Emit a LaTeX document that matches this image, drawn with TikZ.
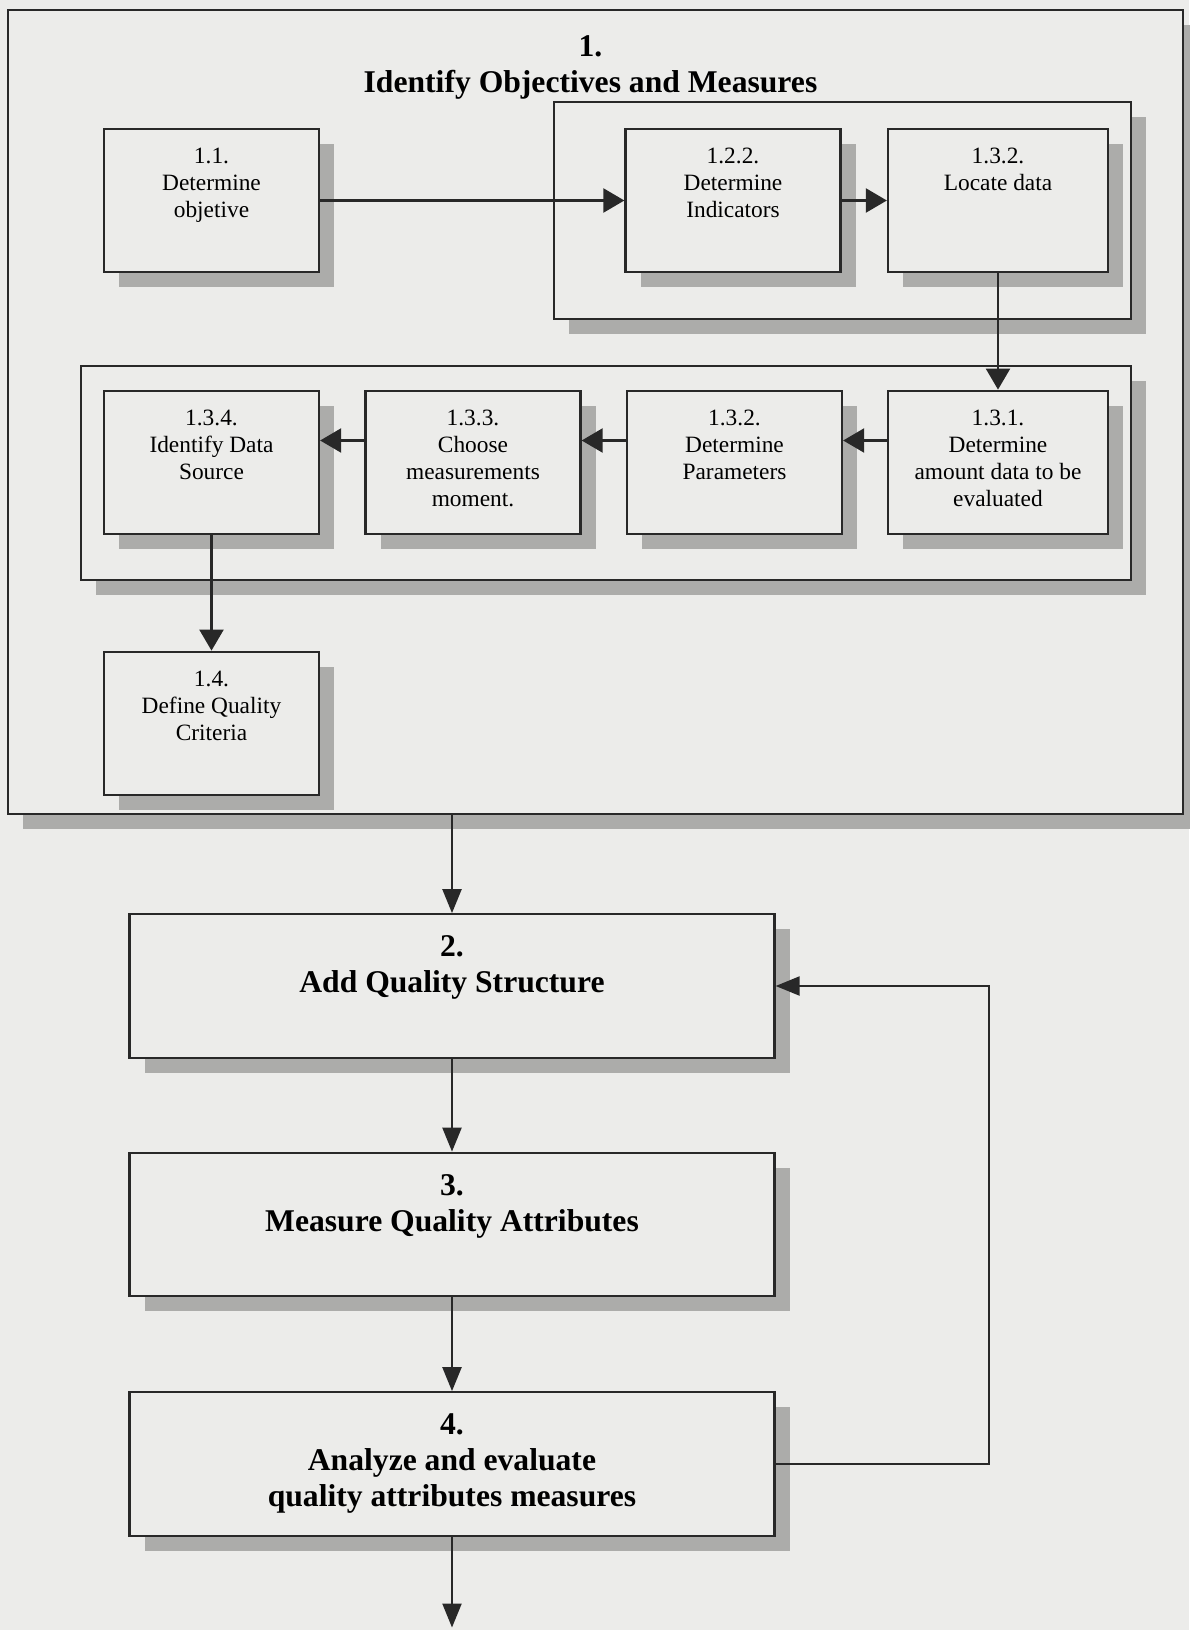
\documentclass[tikz,border=0pt]{standalone}
\usepackage{fontspec}
\setmainfont{Liberation Serif}
\usetikzlibrary{arrows.meta,shadows}

\definecolor{paper}{RGB}{236,236,234}
\definecolor{shade}{RGB}{172,172,170}
\definecolor{ink}{RGB}{40,40,40}

\begin{document}
\begin{tikzpicture}[
    box/.style={draw=ink,line width=1.3pt,fill=paper,
        general shadow={fill=shade,shadow xshift=0.3cm,shadow yshift=-0.3cm}},
    small/.style={box,minimum width=4.3cm,minimum height=2.87cm},
    big/.style={box,minimum width=12.9cm,minimum height=2.87cm},
    stxt/.style={anchor=north,align=center,inner sep=0pt,
        font=\fontsize{13.3}{15.4}\selectfont},
    btxt/.style={anchor=north,align=center,inner sep=0pt,
        font=\fontsize{18}{20.5}\selectfont\bfseries}]

\path[use as bounding box,fill=paper] (0,0) rectangle (23.78,-32.6);

% frames
\node[box,minimum width=23.49cm,minimum height=16.07cm] (g1) at (11.91,-8.24) {};
\node[btxt] (title) at (11.81,-0.7) {1.\\Identify Objectives and Measures};
\node[box,minimum width=11.54cm,minimum height=4.34cm] (ga) at (16.85,-4.21) {};
\node[box,minimum width=21cm,minimum height=4.28cm] (gb) at (12.12,-9.46) {};

\begin{scope}[every node/.style={small}]
    \node (n11) at (4.23,-4.01) {};
    \node (n122) at (14.66,-4.01) {};
    \node[minimum width=4.4cm] (n132a) at (19.96,-4.01) {};
    \node (n134) at (4.23,-9.25) {};
    \node (n133) at (9.46,-9.25) {};
    \node (n132b) at (14.69,-9.25) {};
    \node[minimum width=4.4cm] (n131) at (19.96,-9.25) {};
    \node (n14) at (4.23,-14.47) {};
\end{scope}

\begin{scope}[every node/.style={big}]
    \node (n2) at (9.04,-19.72) {};
    \node (n3) at (9.04,-24.49) {};
    \node (n4) at (9.04,-29.28) {};
\end{scope}

\begin{scope}[every node/.style={stxt}]
    \node (t11) at ([yshift=-0.4cm]n11.north) {1.1.\\Determine\\objetive};
    \node (t122) at ([yshift=-0.4cm]n122.north) {1.2.2.\\Determine\\Indicators};
    \node (t132a) at ([yshift=-0.4cm]n132a.north) {1.3.2.\\Locate data};
    \node (t134) at ([yshift=-0.4cm]n134.north) {1.3.4.\\Identify Data\\Source};
    \node (t133) at ([yshift=-0.4cm]n133.north) {1.3.3.\\Choose\\measurements\\moment.};
    \node (t132b) at ([yshift=-0.4cm]n132b.north) {1.3.2.\\Determine\\Parameters};
    \node (t131) at ([yshift=-0.4cm]n131.north) {1.3.1.\\Determine\\amount data to be\\evaluated};
    \node (t14) at ([yshift=-0.4cm]n14.north) {1.4.\\Define Quality\\Criteria};
\end{scope}

\begin{scope}[every node/.style={btxt}]
    \node (t2) at ([yshift=-0.45cm]n2.north) {2.\\Add Quality Structure};
    \node (t3) at ([yshift=-0.45cm]n3.north) {3.\\Measure Quality Attributes};
    \node (t4) at ([yshift=-0.45cm]n4.north) {4.\\Analyze and evaluate\\quality attributes measures};
\end{scope}

\coordinate (out) at (9.04,-32.55);

\begin{scope}[every edge/.style={draw=ink,line width=1.3pt,
              -{Triangle[length=0.42cm,width=0.48cm]}}]
    \path (n11) edge (n122);
    \path (n122) edge (n132a);
    \path (n132a) edge (n131);
    \path ([yshift=0.44cm]n131.west) edge ([yshift=0.44cm]n132b.east);
    \path ([yshift=0.44cm]n132b.west) edge ([yshift=0.44cm]n133.east);
    \path ([yshift=0.44cm]n133.west) edge ([yshift=0.44cm]n134.east);
    \path (n134) edge (n14);
\end{scope}

\begin{scope}[every edge/.style={draw=ink,line width=1.3pt,
              -{Triangle[length=0.48cm,width=0.38cm]}}]
    \path (n2.north |- g1.south) edge (n2.north);
    \path (n2) edge (n3);
    \path (n3) edge (n4);
    \path (n4) edge (out);
\end{scope}
\draw[ink,line width=1.3pt,-{Triangle[length=0.48cm,width=0.38cm]}]
    (n4.east) -- ++(4.26,0) |- (n2.east);
\end{tikzpicture}
\end{document}
